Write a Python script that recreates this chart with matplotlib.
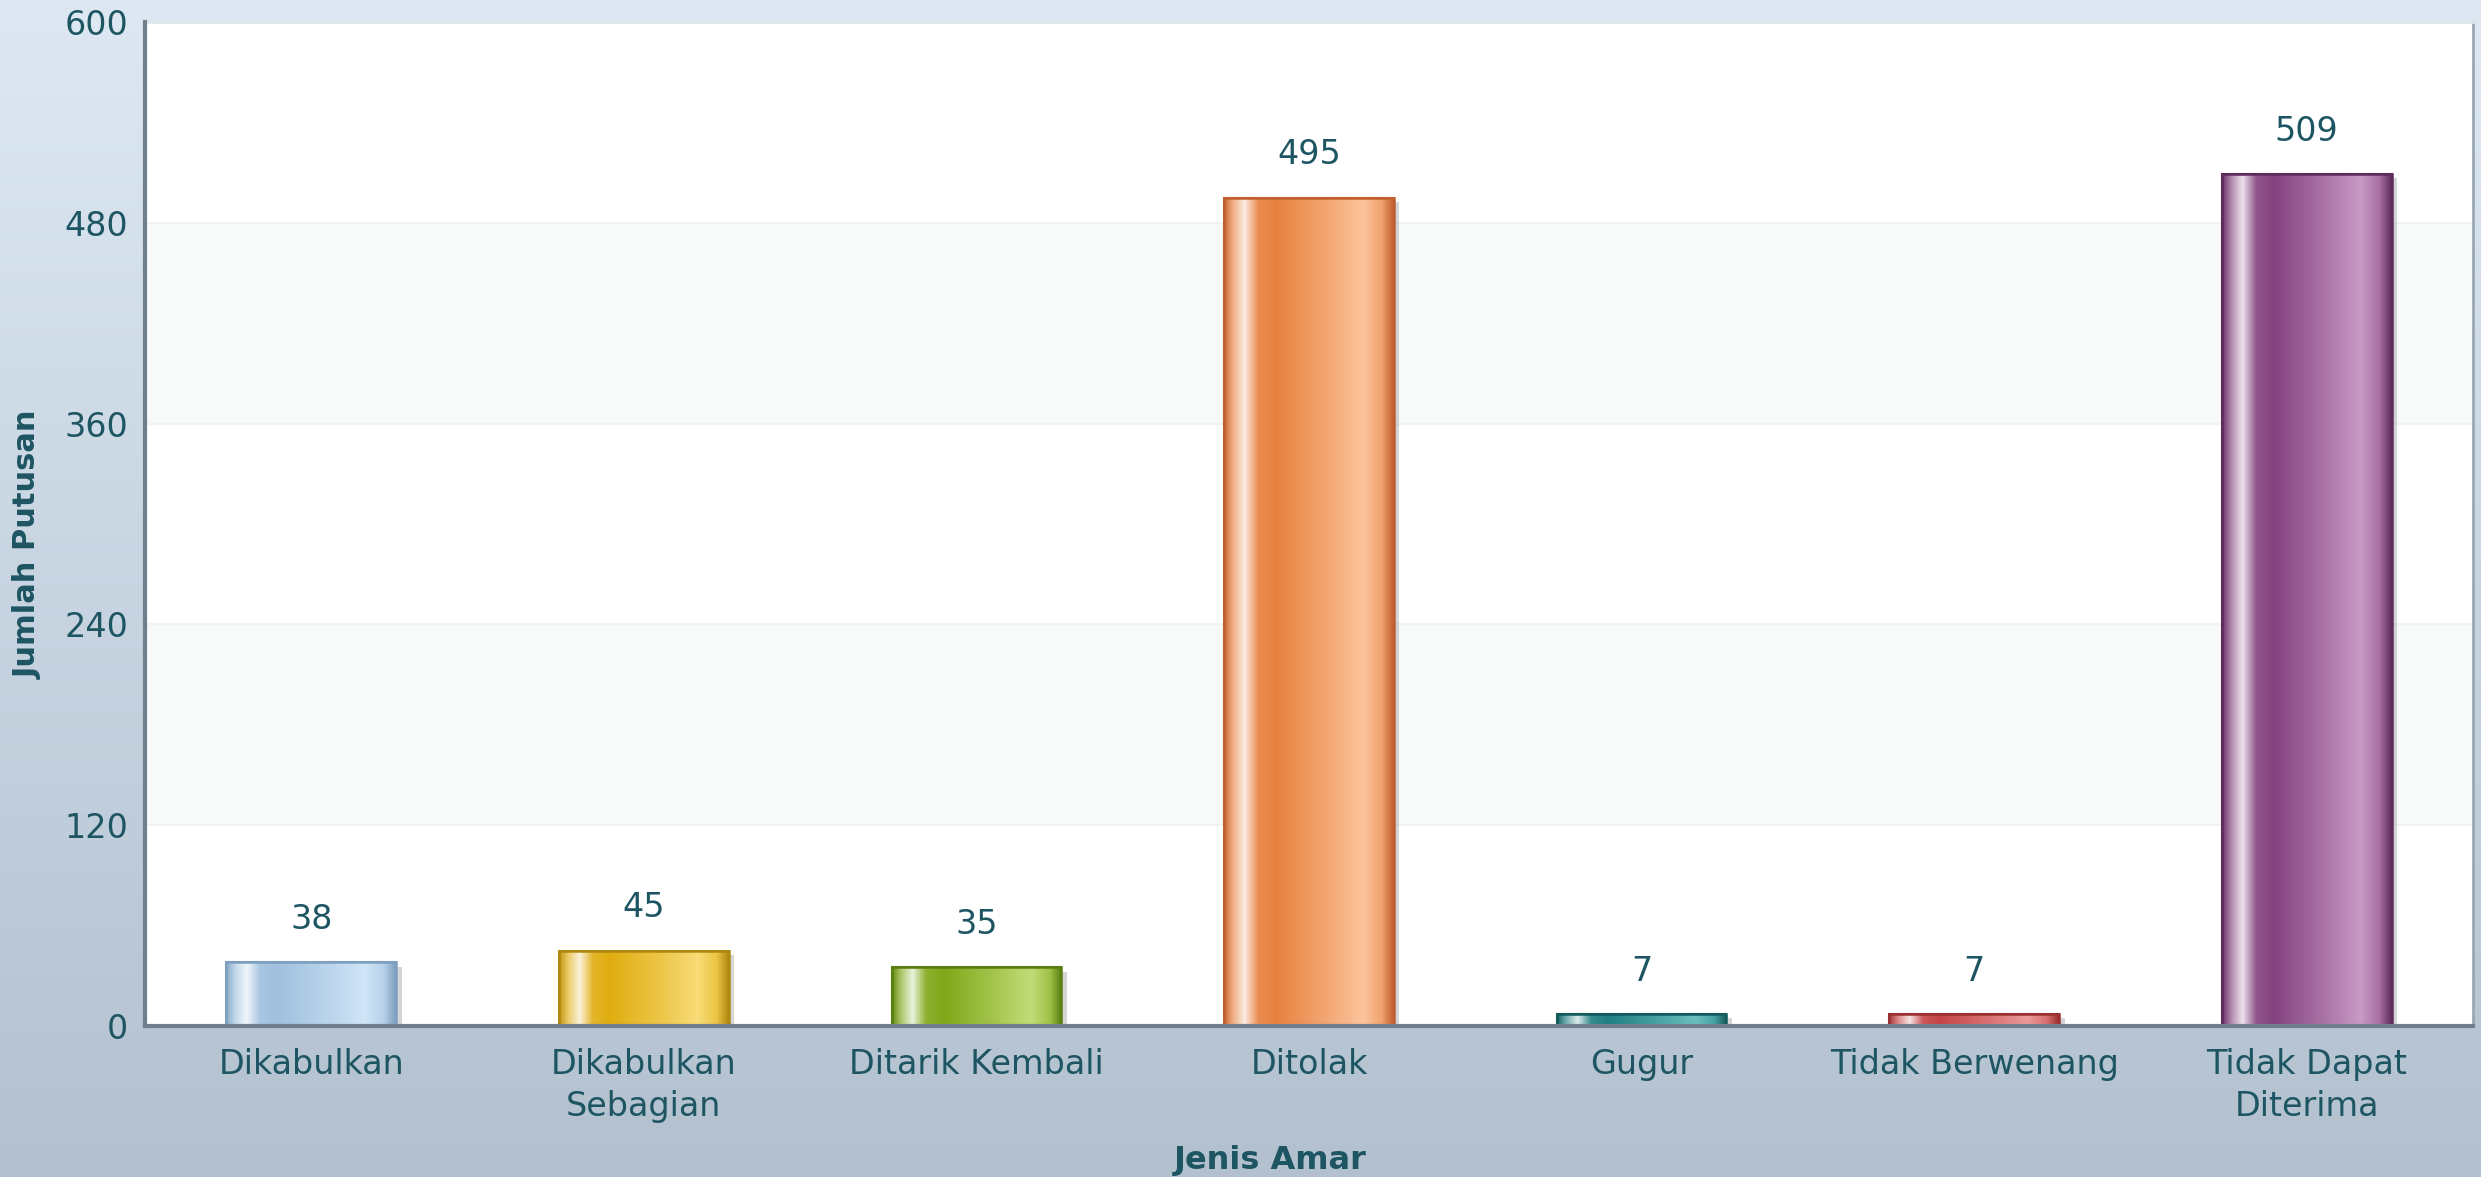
import numpy as np
import matplotlib
matplotlib.use("Agg")
import matplotlib.pyplot as plt
from matplotlib.colors import to_rgb
import matplotlib.patheffects as pe

# data
categories = ["Dikabulkan", "Dikabulkan\nSebagian", "Ditarik Kembali", "Ditolak",
              "Gugur", "Tidak Berwenang", "Tidak Dapat\nDiterima"]
values = [38, 45, 35, 495, 7, 7, 509]

# colours per bar: (base, light, dark edge)
base_colors = ["#9fc0de", "#e0ac10", "#7fa818", "#e8813e", "#1f7f82", "#c64446", "#84427f"]
light_colors = ["#d0e5f7", "#f8dc78", "#c2dc78", "#fcc49c", "#6cc0c0", "#ec9a9a", "#c89ac6"]
dark_colors = ["#7f9fbf", "#b08a10", "#5a7e10", "#c06030", "#145a5c", "#9a3030", "#5e2c5c"]

y_ticks = [0, 120, 240, 360, 480, 600]

text_color = "#1e5562"
plt.rcParams["font.family"] = "DejaVu Sans"


def mix(c1, c2, t):
    a = np.array(to_rgb(c1))
    b = np.array(to_rgb(c2))
    return a * (1 - t) + b * t


def cylinder(base, light, dark, n=200):
    stops = [(0.0, mix(dark, base, 0.3)),
             (0.05, mix(base, "white", 0.35)),
             (0.12, mix(base, "white", 0.85)),
             (0.2, mix(base, "white", 0.1)),
             (0.3, np.array(to_rgb(base))),
             (0.6, mix(base, light, 0.55)),
             (0.82, np.array(to_rgb(light))),
             (0.93, mix(light, base, 0.5)),
             (1.0, np.array(to_rgb(dark)))]
    t = np.linspace(0, 1, n)
    pos = [s[0] for s in stops]
    img = np.zeros((1, n, 3))
    for k in range(3):
        img[0, :, k] = np.interp(t, pos, [s[1][k] for s in stops])
    return img


W, H = 2481, 1177
fig = plt.figure(figsize=(W / 100, H / 100), dpi=100)

# background gradient
bg = fig.add_axes([0, 0, 1, 1], zorder=-10)
grad = np.linspace(0, 1, 256)[:, None]
top = np.array(to_rgb("#dde8f3"))
bot = np.array(to_rgb("#b3c1cf"))
bg_img = top[None, None, :] * (1 - grad[:, :, None]) + bot[None, None, :] * grad[:, :, None]
bg.imshow(bg_img, aspect="auto", extent=[0, 1, 0, 1])
bg.axis("off")

ax = fig.add_axes([145 / W, 151 / H, 2328 / W, 1004 / H])
ax.set_facecolor("white")

x = np.arange(len(categories))
ax.set_xlim(-0.5, len(categories) - 0.5)
ax.set_ylim(0, 600)

# alternating bands + faint grid
for i in range(len(y_ticks) - 1):
    if i % 2 == 1:
        ax.axhspan(y_ticks[i], y_ticks[i + 1], color="#f8fafa", zorder=0)
for yt in y_ticks[1:-1]:
    ax.axhline(yt, color="#eef1f1", lw=1.2, zorder=0.5)

bars = ax.bar(x, values, width=0.51, color=base_colors, edgecolor=dark_colors,
              linewidth=1.5, zorder=3)
for b in bars:
    b.set_path_effects([pe.SimplePatchShadow(offset=(4, -3), shadow_rgbFace="#888888", alpha=0.35),
                        pe.Normal()])

for i, b in enumerate(bars):
    img = cylinder(base_colors[i], light_colors[i], dark_colors[i])
    im = ax.imshow(img, aspect="auto", zorder=3.5,
                   extent=[b.get_x(), b.get_x() + b.get_width(), 0, b.get_height()])
    im.set_clip_path(b)
    ax.bar(b.get_x() + b.get_width() / 2, b.get_height(), width=b.get_width(),
           fill=False, edgecolor=dark_colors[i], linewidth=1.8, zorder=4)
    ax.annotate(str(values[i]), (b.get_x() + b.get_width() / 2, b.get_height()),
                xytext=(0, 19), textcoords="offset points", ha="center", va="bottom",
                fontsize=24, color=text_color)

ax.set_xlim(-0.5, len(categories) - 0.5)
ax.set_ylim(0, 600)
ax.set_xticks(x)
ax.set_xticklabels(categories, fontsize=24, color=text_color, linespacing=1.35)
ax.set_yticks(y_ticks)
ax.set_yticklabels([str(v) for v in y_ticks], fontsize=24, color=text_color)
ax.tick_params(axis="x", length=0, pad=16)
ax.tick_params(axis="y", length=0, pad=12)

ax.spines["top"].set_color("#dfe6ec")
ax.spines["top"].set_linewidth(2)
ax.spines["right"].set_color("#9aa8b4")
ax.spines["right"].set_linewidth(2)
ax.spines["left"].set_color("#6f7f8c")
ax.spines["left"].set_linewidth(3)
ax.spines["bottom"].set_color("#6f7f8c")
ax.spines["bottom"].set_linewidth(3)
ax.spines["left"].set_zorder(5)
ax.spines["bottom"].set_zorder(5)

fig.text(28 / W, 1 - 545 / H, "Jumlah Putusan", rotation=90, ha="center", va="center",
         fontsize=22, fontweight="bold", color=text_color)
fig.text(0.5 + 30 / W, 1 - 1160 / H, "Jenis Amar", ha="center", va="center",
         fontsize=23, fontweight="bold", color=text_color)

fig.savefig("out.png", dpi=100)
